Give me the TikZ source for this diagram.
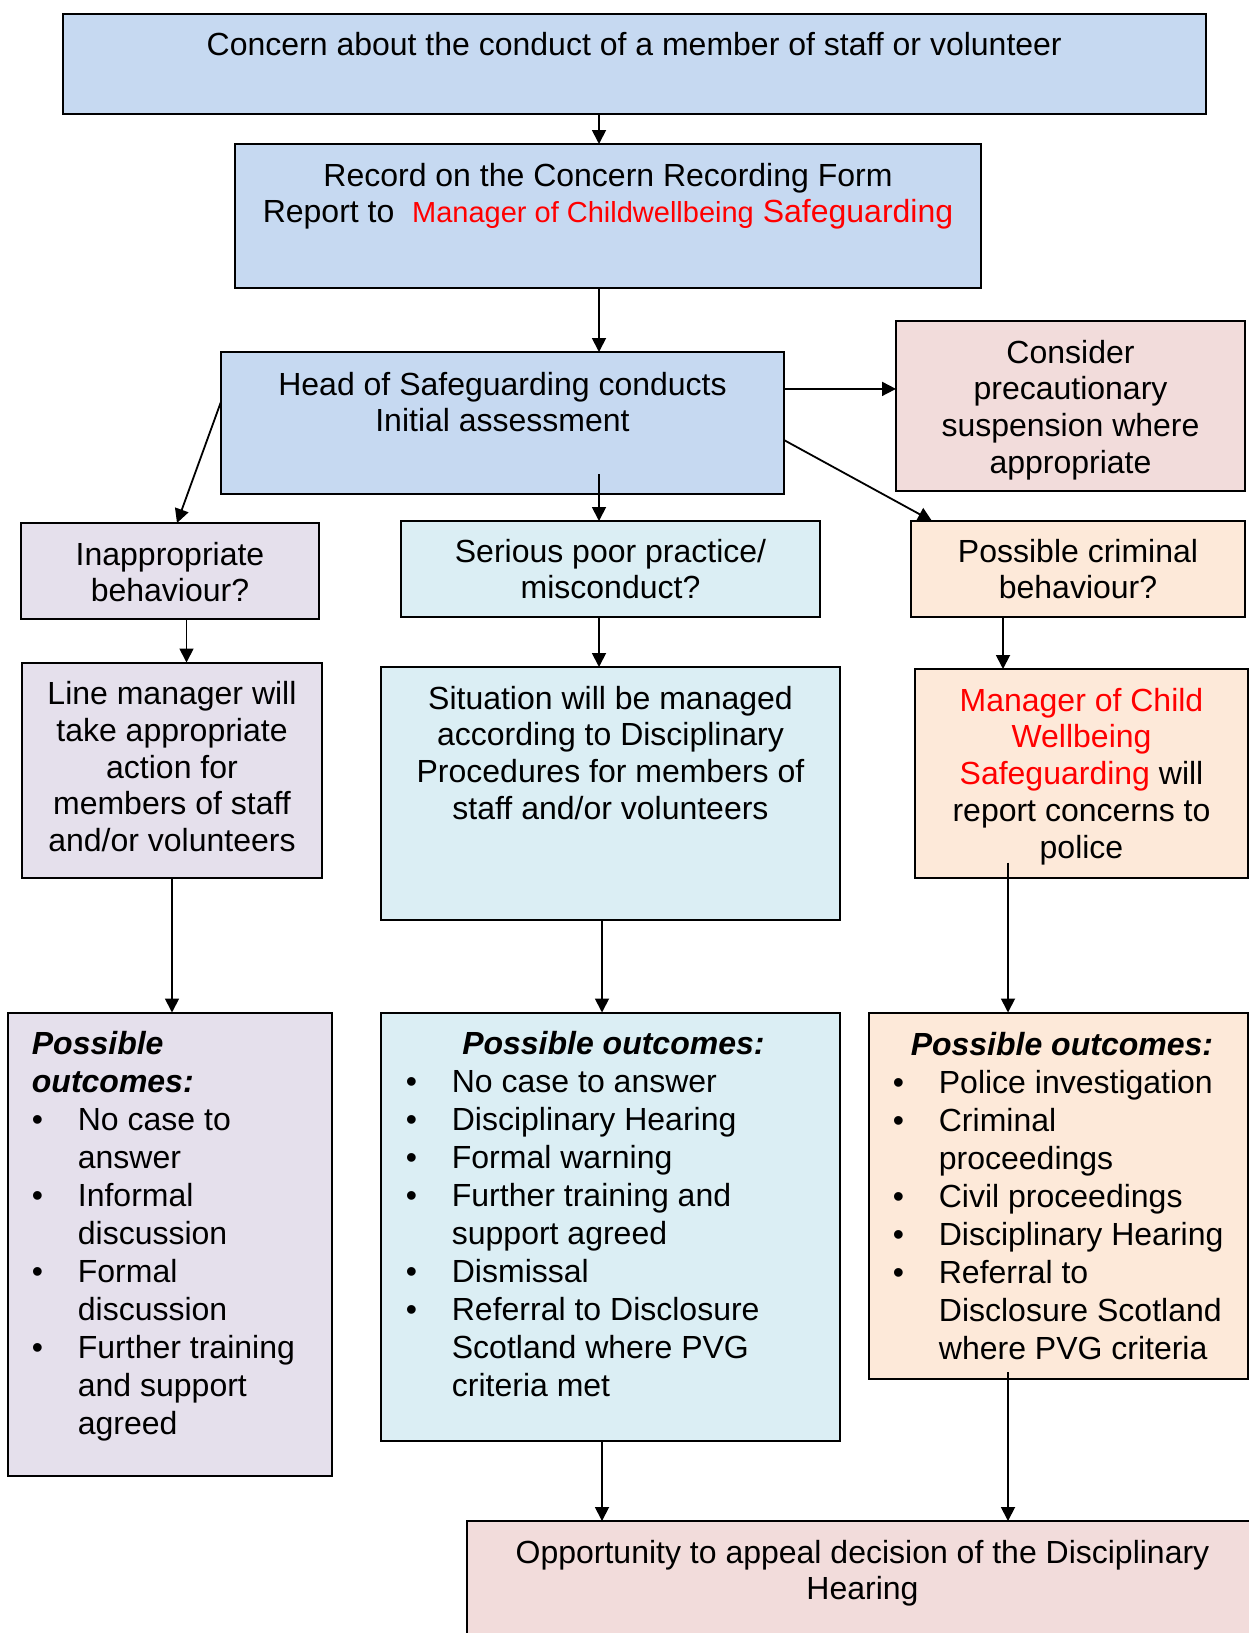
\documentclass[tikz,border=0pt]{standalone}
\usepackage{fontspec}
\setmainfont{Liberation Sans}
\usetikzlibrary{arrows.meta,positioning,fit,calc}

\definecolor{blueF}{HTML}{C6D9F1}
\definecolor{pinkF}{HTML}{F2DCDB}
\definecolor{lilacF}{HTML}{E5E0EC}
\definecolor{cyanF}{HTML}{DBEEF4}
\definecolor{peachF}{HTML}{FDE9D9}

\begin{document}
\begin{tikzpicture}[x=0.5pt,y=-0.5pt,>={Triangle[width=7pt,length=7pt]},line width=0.9pt,
    box/.style={draw,line width=1pt,inner sep=0pt,outer sep=0pt},
    txt/.style={align=center,inner sep=0pt,font=\fontsize{16}{18.4}\selectfont},
    lst/.style={anchor=base west,inner sep=0pt,font=\fontsize{16}{19}\selectfont}]
    \useasboundingbox (0,0) rectangle (1248,1633);

    % boxes
    \node[box, fill=blueF, fit={(62.5,13.5) (1206,113.5)}] (concern) {};
    \node[box, fill=blueF, fit={(235,144) (981,287.5)}] (record) {};
    \node[box, fill=blueF, fit={(221,352) (784,494)}] (head) {};
    \node[box, fill=pinkF, fit={(896,321) (1245,491)}] (consider) {};
    \node[box, fill=lilacF, fit={(21,523) (319,619)}] (inapp) {};
    \node[box, fill=cyanF, fit={(401,521) (820,617)}] (serious) {};
    \node[box, fill=peachF, fit={(911,521) (1245,617)}] (crim) {};
    \node[box, fill=lilacF, fit={(22,662.5) (322,878)}] (linemgr) {};
    \node[box, fill=cyanF, fit={(381,667) (840,920)}] (situation) {};
    \node[box, fill=peachF, fit={(915,669) (1248,878)}] (police) {};
    \node[box, fill=lilacF, fit={(8,1012.5) (332,1476)}] (leftout) {};
    \node[box, fill=cyanF, fit={(381,1012.5) (840,1441)}] (midout) {};
    \node[box, fill=peachF, fit={(869,1012.5) (1248,1379)}] (rightout) {};
    \node[box, fill=pinkF, fit={(467,1521) (1270,1660)}] (appeal) {};

    % texts
    \node[txt, below=9pt of concern.north] (concerntxt) {Concern about the conduct of a member of staff or volunteer};
    \node[txt, below=9pt of record.north] (recordtxt) {Record on the Concern Recording Form\\
        Report to\ \ {\fontsize{14.5}{18.4}\selectfont\color{red}Manager of Childwellbeing} \textcolor{red}{Safeguarding}};
    \node[txt, below=9.5pt of head.north] (headtxt) {Head of Safeguarding conducts\\Initial assessment};
    \node[txt, below=9pt of consider.north] (considertxt) {Consider\\precautionary\\suspension where\\appropriate};
    \node[txt, below=9pt of inapp.north] (inapptxt) {Inappropriate\\behaviour?};
    \node[txt, below=8.5pt of serious.north] (serioustxt) {Serious poor practice/\\misconduct?};
    \node[txt, below=8.5pt of crim.north] (crimtxt) {Possible criminal\\behaviour?};
    \node[txt, below=9pt of linemgr.north] (linemgrtxt) {Line manager will\\take appropriate\\action for\\members of staff\\and/or volunteers};
    \node[txt, below=9pt of situation.north] (situationtxt) {Situation will be managed\\according to Disciplinary\\Procedures for members of\\staff and/or volunteers};
    \node[txt, below=9pt of police.north] (policetxt) {\textcolor{red}{Manager of Child}\\\textcolor{red}{Wellbeing}\\
        \textcolor{red}{Safeguarding} will\\report concerns to\\police};
    \node[txt, below=9pt of appeal.north, xshift=-3pt] (appealtxt) {Opportunity to appeal decision of the Disciplinary\\Hearing};

    % outcome lists
    \node[lst] (leftlist) at (31,1054.5) {\begin{tabular}[t]{@{}p{23pt}@{}l@{}}
        \multicolumn{2}{@{}l@{}}{\bfseries\itshape Possible}\\
        \multicolumn{2}{@{}l@{}}{\bfseries\itshape outcomes:}\\
        \textbullet & No case to\\
         & answer\\
        \textbullet & Informal\\
         & discussion\\
        \textbullet & Formal\\
         & discussion\\
        \textbullet & Further training\\
         & and support\\
         & agreed
    \end{tabular}};
    \node[lst] (midlist) at (405,1054.5) {\begin{tabular}[t]{@{}p{23pt}@{}l@{}}
        \multicolumn{2}{@{}l@{}}{\makebox[207.5pt][c]{\bfseries\itshape Possible outcomes:}}\\
        \textbullet & No case to answer\\
        \textbullet & Disciplinary Hearing\\
        \textbullet & Formal warning\\
        \textbullet & Further training and\\
         & support agreed\\
        \textbullet & Dismissal\\
        \textbullet & Referral to Disclosure\\
         & Scotland where PVG\\
         & criteria met
    \end{tabular}};
    \node[lst] (rightlist) at (892,1055.5) {\begin{tabular}[t]{@{}p{23pt}@{}l@{}}
        \multicolumn{2}{@{}l@{}}{\makebox[169pt][c]{\bfseries\itshape Possible outcomes:}}\\
        \textbullet & Police investigation\\
        \textbullet & Criminal\\
         & proceedings\\
        \textbullet & Civil proceedings\\
        \textbullet & Disciplinary Hearing\\
        \textbullet & Referral to\\
         & Disclosure Scotland\\
         & where PVG criteria
    \end{tabular}};

    % connectors
    \coordinate (spine) at (599,0);
    \coordinate (lcol) at (186.5,0);
    \coordinate (mcol) at (602,0);
    \coordinate (rcol) at (1003,0);
    \coordinate (rcolb) at (1008,0);
    \coordinate (hc) at ($(head.north east)!0.26!(head.south east)$);

    \path[->] (spine |- concern.south) edge (spine |- record.north);
    \path[->] (spine |- record.south) edge (spine |- head.north);
    \path[->] (hc) edge (hc -| consider.west);
    \path[->] ($(head.north west)!0.35!(head.south west)$) edge ([xshift=3.5pt]inapp.north);
    \path[->] ($(spine |- head.south)+(0,-20)$) edge (spine |- serious.north);
    \path[->] ($(head.north east)!0.62!(head.south east)$) edge ([xshift=10.5pt]crim.north west);
    \path[->] (lcol |- inapp.south) edge (lcol |- linemgr.north);
    \path[->] (spine |- serious.south) edge (spine |- situation.north);
    \path[->] (rcol |- crim.south) edge (rcol |- police.north);
    \path[->] (linemgr.south) edge (linemgr.south |- leftout.north);
    \path[->] (mcol |- situation.south) edge (mcol |- midout.north);
    \path[->] ($(rcolb |- police.south)+(0,-15.5)$) edge (rcolb |- rightout.north);
    \path[->] (mcol |- midout.south) edge (mcol |- appeal.north);
    \path[->] ($(rcolb |- rightout.south)+(0,-7)$) edge (rcolb |- appeal.north);
\end{tikzpicture}
\end{document}
